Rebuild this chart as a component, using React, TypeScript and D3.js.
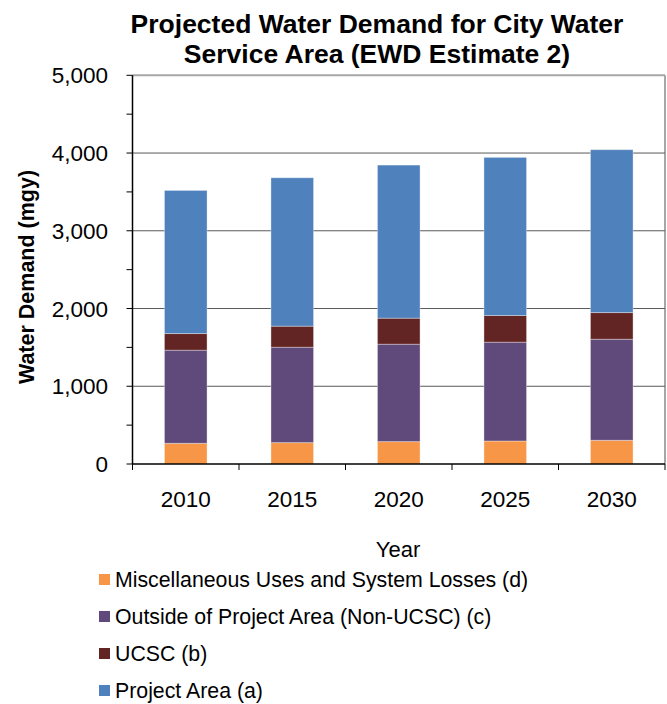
import React from "react";
import * as d3 from "d3";

const years = ["2010", "2015", "2020", "2025", "2030"];
const misc = [266, 275, 288, 296, 305];
const outside = [1198, 1227, 1253, 1271, 1300];
const ucsc = [214, 271, 335, 343, 343];
const project = [1841, 1909, 1969, 2034, 2095];
const yTicks = [0, 1000, 2000, 3000, 4000, 5000];
const seriesNames = [
  "Miscellaneous Uses and System Losses (d)",
  "Outside of Project Area (Non-UCSC) (c)",
  "UCSC (b)",
  "Project Area (a)",
];
const seriesColors = ["#F79646", "#604A7B", "#632523", "#4F81BD"];

const W = 667;
const H = 704;
const left = 132.5;
const right = 665;
const top = 75.3;
const bottom = 464;
const font = "Liberation Sans, Arial, sans-serif";

export default function App() {
  const rows = years.map((y, i) => ({
    year: y,
    s0: misc[i],
    s1: outside[i],
    s2: ucsc[i],
    s3: project[i],
  }));
  const stack = d3.stack<any>().keys(["s0", "s1", "s2", "s3"]);
  const stacked = stack(rows);

  const x = d3.scaleBand().domain(years).range([left, right]).padding(0);
  const y = d3.scaleLinear().domain([0, 5000]).range([bottom, top]);
  const bw = x.bandwidth() * 0.4;
  const minorTicks = d3.range(0, 5001, 500);
  const fmt = d3.format(",");

  return (
    <svg
      width={W}
      height={H}
      style={{ position: "absolute", left: 0, top: 0, background: "#fff" }}
      fontFamily={font}
    >
      <rect x={0} y={0} width={W} height={H} fill="#fff" />
      {/* title */}
      <text x={377} y={33} textAnchor="middle" fontSize={26.5} fontWeight="bold" fill="#000">
        Projected Water Demand for City Water
      </text>
      <text x={377} y={63} textAnchor="middle" fontSize={26.5} fontWeight="bold" fill="#000">
        Service Area (EWD Estimate 2)
      </text>

      {/* plot border */}
      <line x1={left} x2={right} y1={top} y2={top} stroke="#a6a6a6" strokeWidth={2} />
      <line x1={right} x2={right} y1={top} y2={bottom} stroke="#a6a6a6" strokeWidth={2} />

      {/* gridlines */}
      {yTicks.slice(1, -1).map((t) => (
        <line key={t} x1={left} x2={right} y1={y(t)} y2={y(t)} stroke="#5a5a5a" strokeWidth={1} />
      ))}

      {/* bars */}
      {stacked.map((layer, li) =>
        layer.map((d, i) => (
          <rect
            key={li + "-" + i}
            x={(x(years[i]) as number) + (x.bandwidth() - bw) / 2}
            y={y(d[1])}
            width={bw}
            height={y(d[0]) - y(d[1])}
            fill={seriesColors[li]}
            stroke="#ffffff"
            strokeOpacity={0.35}
            strokeWidth={1}
          />
        ))
      )}

      {/* axes */}
      <line x1={left} x2={left} y1={top} y2={bottom} stroke="#000" strokeWidth={1.5} />
      <line x1={left} x2={right} y1={bottom} y2={bottom} stroke="#000" strokeWidth={1.5} />
      {minorTicks.map((t) => (
        <line key={"yt" + t} x1={left - 6} x2={left} y1={y(t)} y2={y(t)} stroke="#000" strokeWidth={1} />
      ))}
      {years.map((yr) => (
        <line
          key={"xt" + yr}
          x1={x(yr) as number}
          x2={x(yr) as number}
          y1={bottom}
          y2={bottom + 6}
          stroke="#000"
          strokeWidth={1}
        />
      ))}
      <line x1={right} x2={right} y1={bottom} y2={bottom + 6} stroke="#000" strokeWidth={1} />

      {yTicks.map((t) => (
        <text key={"yl" + t} x={108} y={y(t) + 8} textAnchor="end" fontSize={22.5} fill="#000">
          {fmt(t)}
        </text>
      ))}
      {years.map((yr) => (
        <text
          key={"xl" + yr}
          x={(x(yr) as number) + x.bandwidth() / 2}
          y={507}
          textAnchor="middle"
          fontSize={22.5}
          fill="#000"
        >
          {yr}
        </text>
      ))}

      <text x={398} y={557} textAnchor="middle" fontSize={22} fill="#000">
        Year
      </text>
      <text
        transform={`translate(34, 277) rotate(-90)`}
        textAnchor="middle"
        fontSize={21.5}
        fontWeight="bold"
        fill="#000"
      >
        Water Demand (mgy)
      </text>

      {/* legend */}
      {seriesNames.map((name, i) => {
        const cy = 580 + i * 37;
        return (
          <g key={name}>
            <rect x={99} y={cy - 6} width={11} height={11} fill={seriesColors[i]} />
            <text x={115} y={cy + 7} fontSize={21.3} fill="#000">
              {name}
            </text>
          </g>
        );
      })}
    </svg>
  );
}
